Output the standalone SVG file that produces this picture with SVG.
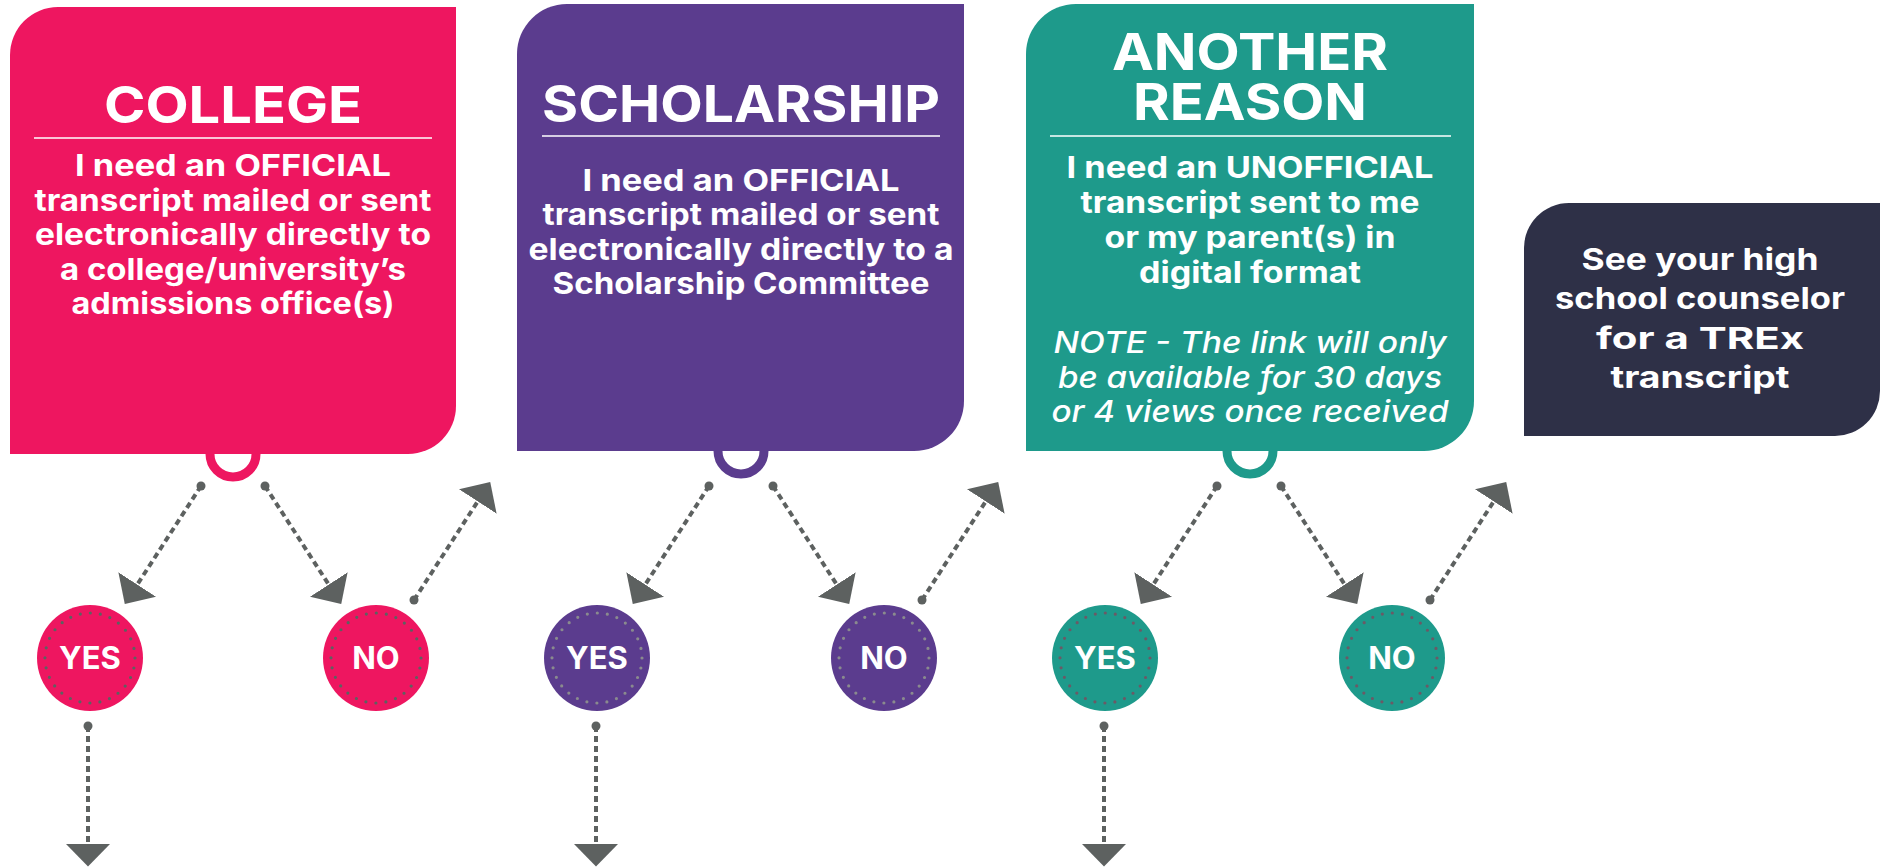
<svg xmlns="http://www.w3.org/2000/svg" width="1889" height="867" viewBox="0 0 1889 867">
<style>
.title{font-family:Inter,"Liberation Sans",sans-serif;font-weight:700;font-size:51px;fill:#fff;text-anchor:middle}
.body{font-family:Inter,"Liberation Sans",sans-serif;font-weight:700;font-size:30px;fill:#fff;text-anchor:middle}
.note{font-family:Inter,"Liberation Sans",sans-serif;font-weight:500;font-style:italic;font-size:30px;fill:#fff;text-anchor:middle}
.yn{font-family:Inter,"Liberation Sans",sans-serif;font-weight:700;font-size:31px;fill:#fff;text-anchor:middle}
.rule{stroke:#fff;stroke-width:1.6}
.ring{fill:none;stroke-width:9}
.dots{fill:none;stroke:#5d6160;stroke-width:3.2;stroke-linecap:round;stroke-dasharray:0 10.097}
.conn{fill:none;stroke:#5d6160;stroke-width:4;stroke-dasharray:6 4}
.dot{fill:#5d6160}
</style>
<defs>
<marker id="ah" markerUnits="userSpaceOnUse" viewBox="0 0 23 45" refX="0.5" refY="22.5" markerWidth="23" markerHeight="45" orient="auto">
<path d="M0,0 L23,22.5 L0,45 Z" fill="#5d6160"/>
</marker>
</defs>
<rect width="1889" height="867" fill="#fff"/>

<g id="college">
<circle class="ring" cx="233" cy="454" r="23" stroke="#ee1660"/>
<path d="M10,454 L10,55 A48,48 0 0 1 58,7 L456,7 L456,406 A48,48 0 0 1 408,454 Z" fill="#ee1660"/>
<text class="title" x="233" y="123" textLength="258" lengthAdjust="spacingAndGlyphs">COLLEGE</text>
<line class="rule" x1="34" y1="138" x2="432" y2="138"/>
<text class="body" x="233" y="176" textLength="316" lengthAdjust="spacingAndGlyphs">I need an OFFICIAL</text>
<text class="body" x="233" y="210.6" textLength="397" lengthAdjust="spacingAndGlyphs">transcript mailed or sent</text>
<text class="body" x="233" y="245.2" textLength="396" lengthAdjust="spacingAndGlyphs">electronically directly to</text>
<text class="body" x="233" y="279.8" textLength="346" lengthAdjust="spacingAndGlyphs">a college/university’s</text>
<text class="body" x="233" y="314.4" textLength="323" lengthAdjust="spacingAndGlyphs">admissions office(s)</text>
</g>

<g id="scholarship">
<circle class="ring" cx="741" cy="451" r="23" stroke="#5b3c8e"/>
<path d="M517,451 L517,54 A50,50 0 0 1 567,4 L964,4 L964,401 A50,50 0 0 1 914,451 Z" fill="#5b3c8e"/>
<text class="title" x="741" y="122" textLength="398" lengthAdjust="spacingAndGlyphs">SCHOLARSHIP</text>
<line class="rule" x1="542" y1="136" x2="940" y2="136"/>
<text class="body" x="741" y="190.5" textLength="317" lengthAdjust="spacingAndGlyphs">I need an OFFICIAL</text>
<text class="body" x="741" y="225.1" textLength="397" lengthAdjust="spacingAndGlyphs">transcript mailed or sent</text>
<text class="body" x="741" y="259.7" textLength="425" lengthAdjust="spacingAndGlyphs">electronically directly to a</text>
<text class="body" x="741" y="294.3" textLength="377" lengthAdjust="spacingAndGlyphs">Scholarship Committee</text>
</g>

<g id="another-reason">
<circle class="ring" cx="1250" cy="451" r="23" stroke="#1e9a8b"/>
<path d="M1026,451 L1026,54 A50,50 0 0 1 1076,4 L1474,4 L1474,401 A50,50 0 0 1 1424,451 Z" fill="#1e9a8b"/>
<text class="title"><tspan x="1250" y="70" textLength="276" lengthAdjust="spacingAndGlyphs">ANOTHER</tspan><tspan x="1250" y="120" textLength="234" lengthAdjust="spacingAndGlyphs">REASON</tspan></text>
<line class="rule" x1="1050" y1="136" x2="1451" y2="136"/>
<text class="body" x="1250" y="178" textLength="367" lengthAdjust="spacingAndGlyphs">I need an UNOFFICIAL</text>
<text class="body" x="1250" y="213" textLength="339" lengthAdjust="spacingAndGlyphs">transcript sent to me</text>
<text class="body" x="1250" y="248" textLength="291" lengthAdjust="spacingAndGlyphs">or my parent(s) in</text>
<text class="body" x="1250" y="283" textLength="222" lengthAdjust="spacingAndGlyphs">digital format</text>
<text class="note" x="1250" y="353" textLength="393" lengthAdjust="spacingAndGlyphs">NOTE - The link will only</text>
<text class="note" x="1250" y="387.5" textLength="384" lengthAdjust="spacingAndGlyphs">be available for 30 days</text>
<text class="note" x="1250" y="422" textLength="397" lengthAdjust="spacingAndGlyphs">or 4 views once received</text>
</g>

<g id="counselor">
<path d="M1524,436 L1524,248 A45,45 0 0 1 1569,203 L1880,203 L1880,391 A45,45 0 0 1 1835,436 Z" fill="#2e3047"/>
<text class="body" x="1700" y="269.5" textLength="237" lengthAdjust="spacingAndGlyphs">See your high</text>
<text class="body" x="1700" y="309" textLength="290" lengthAdjust="spacingAndGlyphs">school counselor</text>
<text class="body" x="1700" y="348.5" textLength="208" lengthAdjust="spacingAndGlyphs">for a TREx</text>
<text class="body" x="1700" y="388" textLength="179" lengthAdjust="spacingAndGlyphs">transcript</text>
</g>

<g id="college-yes">
<circle cx="90" cy="658" r="53" fill="#ee1660"/>
<circle class="dots" cx="90" cy="658" r="45"/>
<text class="yn" x="90" y="669">YES</text>
</g>
<g id="college-no">
<circle cx="376" cy="658" r="53" fill="#ee1660"/>
<circle class="dots" cx="376" cy="658" r="45"/>
<text class="yn" x="376" y="669">NO</text>
</g>
<g id="scholarship-yes">
<circle cx="597" cy="658" r="53" fill="#5b3c8e"/>
<circle class="dots" cx="597" cy="658" r="45" style="stroke:#8a8a8e"/>
<text class="yn" x="597" y="669">YES</text>
</g>
<g id="scholarship-no">
<circle cx="884" cy="658" r="53" fill="#5b3c8e"/>
<circle class="dots" cx="884" cy="658" r="45" style="stroke:#8a8a8e"/>
<text class="yn" x="884" y="669">NO</text>
</g>
<g id="another-yes">
<circle cx="1105" cy="658" r="53" fill="#1e9a8b"/>
<circle class="dots" cx="1105" cy="658" r="45" style="stroke:#6a5a66"/>
<text class="yn" x="1105" y="669">YES</text>
</g>
<g id="another-no">
<circle cx="1392" cy="658" r="53" fill="#1e9a8b"/>
<circle class="dots" cx="1392" cy="658" r="45" style="stroke:#6a5a66"/>
<text class="yn" x="1392" y="669">NO</text>
</g>

<g id="connectors">
<line class="conn" x1="201" y1="486" x2="137" y2="585" marker-end="url(#ah)"/>
<circle class="dot" cx="201" cy="486" r="4.5"/>
<line class="conn" x1="265" y1="486" x2="329" y2="585" marker-end="url(#ah)"/>
<circle class="dot" cx="265" cy="486" r="4.5"/>
<line class="conn" x1="414" y1="600" x2="478" y2="501" marker-end="url(#ah)"/>
<circle class="dot" cx="414" cy="600" r="4.5"/>
<line class="conn" x1="88" y1="726" x2="88" y2="844" marker-end="url(#ah)"/>
<circle class="dot" cx="88" cy="726" r="4.5"/>

<line class="conn" x1="709" y1="486" x2="645" y2="585" marker-end="url(#ah)"/>
<circle class="dot" cx="709" cy="486" r="4.5"/>
<line class="conn" x1="773" y1="486" x2="837" y2="585" marker-end="url(#ah)"/>
<circle class="dot" cx="773" cy="486" r="4.5"/>
<line class="conn" x1="922" y1="600" x2="986" y2="501" marker-end="url(#ah)"/>
<circle class="dot" cx="922" cy="600" r="4.5"/>
<line class="conn" x1="596" y1="726" x2="596" y2="844" marker-end="url(#ah)"/>
<circle class="dot" cx="596" cy="726" r="4.5"/>

<line class="conn" x1="1217" y1="486" x2="1153" y2="585" marker-end="url(#ah)"/>
<circle class="dot" cx="1217" cy="486" r="4.5"/>
<line class="conn" x1="1281" y1="486" x2="1345" y2="585" marker-end="url(#ah)"/>
<circle class="dot" cx="1281" cy="486" r="4.5"/>
<line class="conn" x1="1430" y1="600" x2="1494" y2="501" marker-end="url(#ah)"/>
<circle class="dot" cx="1430" cy="600" r="4.5"/>
<line class="conn" x1="1104" y1="726" x2="1104" y2="844" marker-end="url(#ah)"/>
<circle class="dot" cx="1104" cy="726" r="4.5"/>
</g>
</svg>
